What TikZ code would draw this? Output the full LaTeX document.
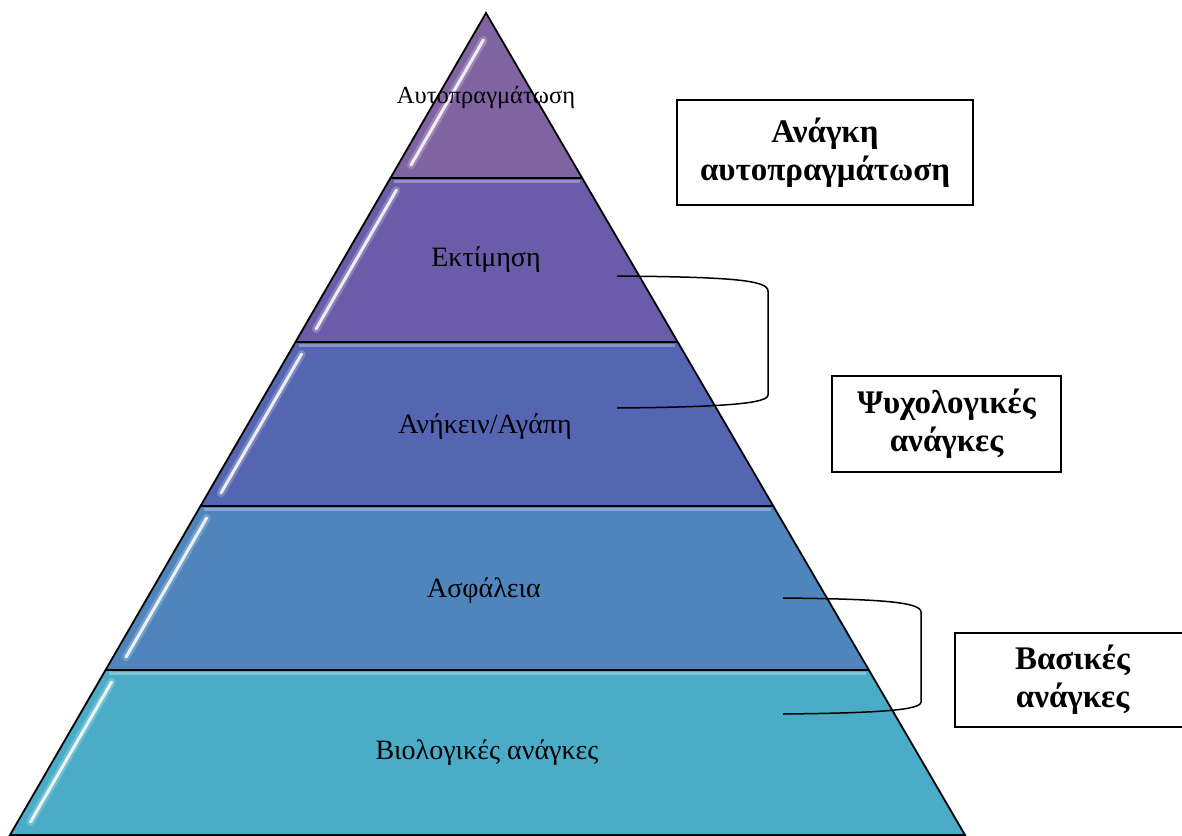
\documentclass[tikz,border=0pt]{standalone}
\usepackage{fontspec}
\setmainfont{Liberation Serif}
\definecolor{cA}{RGB}{128,100,162}
\definecolor{cB}{RGB}{106,92,168}
\definecolor{cC}{RGB}{84,101,177}
\definecolor{cD}{RGB}{78,133,189}
\definecolor{cE}{RGB}{74,172,198}
\tikzset{
  layer/.style={draw=black, line width=1.8pt, line join=miter},
  lbl/.style={inner sep=0pt, anchor=base, font=\fontsize{28}{32}\selectfont},
  hlglow/.style={white, line width=8pt, opacity=0.22, line cap=round},
  hlcore/.style={white, line width=3pt, opacity=0.85, line cap=round},
  topband/.style={white, line width=3pt, opacity=0.3},
  infobox/.style={draw=black, line width=1.5pt, fill=white, inner sep=0pt, align=center,
    font=\bfseries\fontsize{33}{38}\selectfont},
  brk/.style={draw=black, line width=1.5pt}
}
\begin{document}
\begin{tikzpicture}[x=1pt, y=-1pt]
\useasboundingbox (0,0) rectangle (1182,835);
\clip (0,0) rectangle (1182,835);
% layers
\fill[cA] (486,13) -- (582.2,178) -- (390.4,178) -- cycle;
\fill[cB] (390.4,178) -- (582.2,178) -- (677.7,342) -- (295.5,342) -- cycle;
\fill[cC] (295.5,342) -- (677.7,342) -- (773.3,506) -- (200.5,506) -- cycle;
\fill[cD] (200.5,506) -- (773.3,506) -- (868.9,670) -- (105.6,670) -- cycle;
\fill[cE] (105.6,670) -- (868.9,670) -- (965,835) -- (10,835) -- cycle;
% top light bands
\draw[topband] (394,181.5) -- (580,181.5);
\draw[topband] (299,345.5) -- (675,345.5);
\draw[topband] (204,509.5) -- (771,509.5);
\draw[topband] (109,673.5) -- (866,673.5);
% gloss highlights
\foreach \ya/\xa/\yb/\xb in {40/483.4/165/411, 190/396.5/329/316, 354/301.6/493/221, 518/206.6/657/126.1, 682/111.6/822/30.5}{
  \draw[hlglow] (\xa,\ya) -- (\xb,\yb);
  \draw[hlcore] (\xa,\ya) -- (\xb,\yb);
}
% outlines
\draw[layer] (486,13) -- (965,835) -- (10,835) -- cycle;
\draw[layer] (390.4,178) -- (582.2,178);
\draw[layer] (295.5,342) -- (677.7,342);
\draw[layer] (200.5,506) -- (773.3,506);
\draw[layer] (105.6,670) -- (868.9,670);
% labels
\node[lbl, font=\fontsize{24.5}{28}\selectfont] (l1) at (486,103) {Αυτοπραγμάτωση};
\node[lbl] (l2) at (486,266) {Εκτίμηση};
\node[lbl] (l3) at (485,433) {Ανήκειν/Αγάπη};
\node[lbl] (l4) at (484,597) {Ασφάλεια};
\node[lbl] (l5) at (487,759) {Βιολογικές ανάγκες};
% info boxes
\node[infobox, minimum width=296pt, minimum height=105pt] (b1) at (825,152.5) {Ανάγκη\\αυτοπραγμάτωση};
\node[infobox, minimum width=229pt, minimum height=96pt] (b2) at (946.5,424) {Ψυχολογικές\\ανάγκες};
\node[infobox, minimum width=235pt, minimum height=94pt] (b3) at (1072.5,680) {Βασικές\\ανάγκες};
% brackets
\coordinate (k1t) at (617,276);
\coordinate (k1b) at (617,408);
\coordinate (k2t) at (783,598);
\coordinate (k2b) at (783,714);
\draw[brk] (k1t) .. controls (730,277) and (768,280) .. (768,291) -- (768,395) .. controls (768,403) and (730,407) .. (k1b);
\draw[brk] (k2t) .. controls (880,599) and (921,602) .. (921,612) -- (921,702) .. controls (921,710) and (880,713) .. (k2b);
\end{tikzpicture}
\end{document}
